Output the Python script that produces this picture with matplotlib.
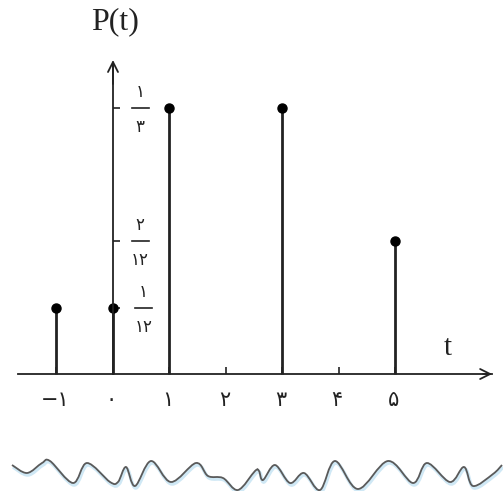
import matplotlib
matplotlib.use("Agg")
import matplotlib.pyplot as plt
import numpy as np
from matplotlib.path import Path
from matplotlib.patches import PathPatch

# probability mass P(t)
t_vals = [-1, 0, 1, 3, 5]
p_vals = [1 / 12, 1 / 12, 1 / 3, 1 / 3, 2 / 12]

x_ticks = [-1, 0, 1, 2, 3, 4, 5]
x_labels = ["−۱", "۰", "۱", "۲", "۳", "۴", "۵"]

y_ticks = [1 / 12, 2 / 12, 1 / 3]
y_nums = ["۱", "۲", "۱"]
y_dens = ["۱۲", "۱۲", "۳"]

# torn-paper edge under the figure (pixel coords)
edge_x = [12, 27, 42, 50, 73, 87, 110, 118, 126, 135, 151, 171, 196, 208, 223, 238,
          255, 259, 263, 275, 290, 304, 320, 335, 358, 388, 413, 427, 450, 464, 473, 493, 502]
edge_y = [465, 473, 463, 461, 483, 463, 482, 482, 467, 486, 461, 482, 463, 476, 478, 490,
          471, 471, 480, 465, 483, 473, 490, 461, 489, 461, 483, 463, 482, 467, 486, 474, 465]

ink = "#222222"
digit_font = ["DejaVu Sans"]
serif_font = ["Liberation Serif", "DejaVu Serif"]

fig = plt.figure(figsize=(5.03, 4.91), dpi=100)
ax = fig.add_axes([0, 0, 1, 1])
ax.set_xlim(-2.0, 6.903)
ax.set_ylim(-0.1466, 0.4687)
ax.set_facecolor("white")

# axes through the origin
for side in ["top", "right"]:
    ax.spines[side].set_visible(False)
ax.spines["bottom"].set_position(("data", 0))
ax.spines["left"].set_position(("data", 0))
ax.spines["bottom"].set_bounds(-1.68, 6.7)
ax.spines["left"].set_bounds(0, 0.39)
for side in ["bottom", "left"]:
    ax.spines[side].set_color(ink)
    ax.spines[side].set_linewidth(1.3)

ax.set_xticks(x_ticks)
ax.set_xticklabels([])
ax.set_yticks(y_ticks)
ax.set_yticklabels([])
ax.tick_params(axis="x", direction="in", length=5, width=1.2, color=ink)
ax.tick_params(axis="y", direction="in", length=5, width=1.2, color=ink)

# open arrowheads
ax.annotate("", xy=(6.76, 0), xytext=(6.5, 0),
            arrowprops=dict(arrowstyle="->", color=ink, lw=1.3, mutation_scale=18))
ax.annotate("", xy=(0, 0.397), xytext=(0, 0.36),
            arrowprops=dict(arrowstyle="->", color=ink, lw=1.3, mutation_scale=18))

# stems
ax.vlines(t_vals, 0, p_vals, color=ink, lw=2.0)
ax.plot(t_vals, p_vals, "o", color="black", markersize=6.5)

# x tick labels
for xv, lab in zip(x_ticks, x_labels):
    ax.text(xv - 0.03, -0.032, lab, ha="center", va="center",
            fontsize=15, family=digit_font, color=ink)

# y tick labels as stacked fractions
for yv, num, den in zip(y_ticks, y_nums, y_dens):
    xc = 0.54 if yv == 1 / 12 else 0.48
    ax.text(xc, yv + 0.02, num, ha="center", va="center",
            fontsize=12, family=digit_font, color=ink)
    ax.text(xc, yv - 0.024, den, ha="center", va="center",
            fontsize=12, family=digit_font, color=ink)
    ax.plot([xc - 0.15, xc + 0.15], [yv, yv], color=ink, lw=1.2)

ax.text(0.04, 0.441, "P(t)", ha="center", va="center", fontsize=23,
        family=serif_font, color=ink)
ax.text(5.92, 0.033, "t", ha="center", va="center", fontsize=21,
        family=serif_font, color=ink)

# overlay in pixel coords for the torn edge
ov = fig.add_axes([0, 0, 1, 1])
ov.set_xlim(0, 503)
ov.set_ylim(491, 0)
ov.axis("off")
ov.patch.set_alpha(0)


def edge_path(dx, dy):
    # smooth curve through every read point (cubic bezier pieces)
    p = np.array([(x + dx, y + dy) for x, y in zip(edge_x, edge_y)], dtype=float)
    p = np.vstack([p[0], p, p[-1]])
    verts = [tuple(p[1])]
    codes = [Path.MOVETO]
    for k in range(1, len(p) - 2):
        c1 = p[k] + (p[k + 1] - p[k - 1]) / 6
        c2 = p[k + 1] - (p[k + 2] - p[k]) / 6
        verts += [tuple(c1), tuple(c2), tuple(p[k + 1])]
        codes += [Path.CURVE4] * 3
    return Path(verts, codes)


ov.add_patch(PathPatch(edge_path(1, 2), facecolor="none", edgecolor="#cfe8f5", lw=2.5))
ov.add_patch(PathPatch(edge_path(0, 0), facecolor="none", edgecolor="#5a5a5a", lw=1.3))

fig.savefig("out.png", dpi=100)
